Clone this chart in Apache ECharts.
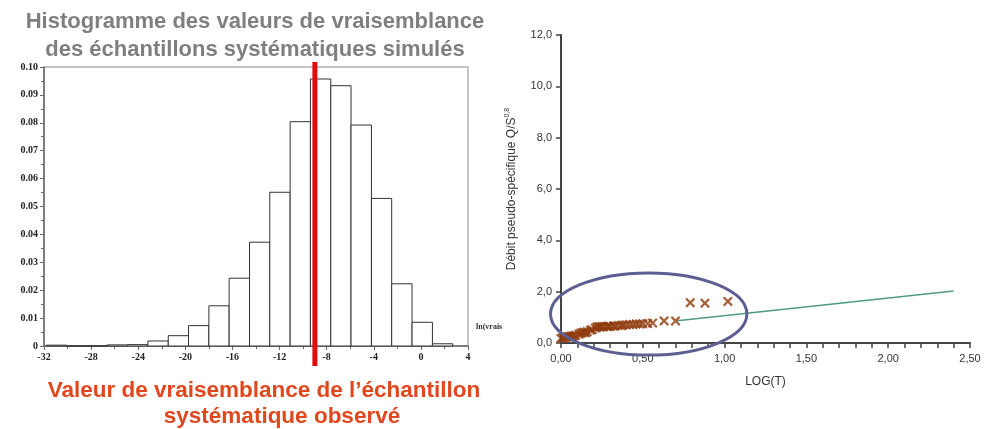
<!DOCTYPE html>
<html>
<head>
<meta charset="utf-8">
<script src="https://cdn.jsdelivr.net/npm/echarts@6/dist/echarts.min.js"></script>
<style>
html, body { margin: 0; padding: 0; background: #fff; }
#box1 { width: 984px; height: 429px; }
</style>
</head>
<body>
<div id="box1"></div>
<script>
// histogramme : bornes des classes et fréquences
var binEdges = [-31.8, -30.08, -28.35, -26.63, -24.9, -23.18, -21.45, -19.73, -18.0, -16.28,
	-14.55, -12.83, -11.1, -9.38, -7.65, -5.93, -4.2, -2.48, -0.75, 0.98, 2.7];
var binFreq = [0.0003, 0, 0, 0.0004, 0.0005, 0.0018, 0.0037, 0.0073, 0.0144, 0.0243,
	0.0372, 0.0551, 0.0804, 0.0957, 0.0933, 0.0792, 0.0529, 0.0223, 0.0085, 0.0008];
var observedValue = -9.0;

// nuage de points : LOG(T) et debit pseudo-specifique
var logT = [0.00, 0.01, 0.02, 0.03, 0.04, 0.05, 0.06, 0.07, 0.08, 0.09,
	0.11, 0.12, 0.13, 0.14, 0.15, 0.16, 0.18, 0.19,
	0.21, 0.22, 0.23, 0.24, 0.25, 0.26, 0.28, 0.29, 0.30, 0.32, 0.33, 0.35,
	0.37, 0.38, 0.40, 0.42, 0.44, 0.46, 0.48, 0.50, 0.53, 0.56,
	0.63, 0.70, 0.79, 0.88, 1.02];
var debit = [0.18, 0.20, 0.22, 0.22, 0.24, 0.25, 0.26, 0.27, 0.28, 0.30,
	0.34, 0.38, 0.40, 0.42, 0.40, 0.44, 0.50, 0.52,
	0.58, 0.62, 0.64, 0.62, 0.64, 0.63, 0.64, 0.65, 0.64, 0.66, 0.66, 0.68,
	0.68, 0.70, 0.71, 0.72, 0.72, 0.74, 0.74, 0.75, 0.76, 0.78,
	0.86, 0.86, 1.57, 1.55, 1.62];
// droite d'ajustement
var fitX = [0.71, 2.40];
var fitY = [0.87, 2.03];
// ellipse : centre et demi-axes en unites des axes
var ellipseCenter = [0.536, 1.13];
var ellipseRadius = [0.60, 1.6];

var histData = [];
for (var i = 0; i < binFreq.length; i++) {
	histData.push([binEdges[i], binEdges[i + 1], binFreq[i]]);
}
var scatterData = [];
for (var j = 0; j < logT.length; j++) {
	scatterData.push([logT[j], debit[j]]);
}
var fitData = [[fitX[0], fitY[0]], [fitX[1], fitY[1]]];

var serif = 'Liberation Serif';
var sans = 'Liberation Sans';
var crossPath = 'path://M0,1.6L1.6,0L5,3.4L8.4,0L10,1.6L6.6,5L10,8.4L8.4,10L5,6.6L1.6,10L0,8.4L3.4,5Z';

function comma(v, d) {
	return v.toFixed(d).replace('.', ',');
}

var dom1 = document.getElementById("box1");
var myChart1 = echarts.init(dom1);

var option1 = {
	animation: false,
	backgroundColor: '#fff',
	title: [{
			text: 'Histogramme des valeurs de vraisemblance\ndes échantillons systématiques simulés',
			left: 250,
			top: 3,
			textAlign: 'center',
			textStyle: {
				color: '#7f7f7f',
				fontFamily: sans,
				fontSize: 22,
				fontWeight: 'bold',
				lineHeight: 28
			}
		},
		{
			text: 'Valeur de vraisemblance de l\u2019échantillon',
			left: 259,
			top: 374,
			textAlign: 'center',
			textStyle: {
				color: '#e2461d',
				fontFamily: sans,
				fontSize: 22.5,
				fontWeight: 'bold'
			}
		},
		{
			text: 'systématique observé',
			left: 277,
			top: 400,
			textAlign: 'center',
			textStyle: {
				color: '#e2461d',
				fontFamily: sans,
				fontSize: 22.5,
				fontWeight: 'bold'
			}
		},
		{
			text: 'ln(vrais',
			left: 471,
			top: 318,
			textStyle: {
				color: '#333',
				fontFamily: serif,
				fontSize: 8,
				fontWeight: 'bold'
			}
		}
	],
	grid: [{
			left: 44,
			top: 67,
			width: 424,
			height: 279,
			show: true,
			borderColor: '#888',
			borderWidth: 1,
			backgroundColor: 'transparent'
		},
		{
			left: 561,
			top: 35,
			width: 409,
			height: 308
		}
	],
	xAxis: [{
			type: 'value',
			gridIndex: 0,
			min: -32,
			max: 4,
			interval: 4,
			splitLine: { show: false },
			axisLine: { onZero: false, lineStyle: { color: '#666', width: 1.5 } },
			axisTick: { length: 4, lineStyle: { color: '#666' } },
			minorTick: { show: true, splitNumber: 2, length: 3, lineStyle: { color: '#666' } },
			axisLabel: {
				color: '#222',
				fontFamily: serif,
				fontWeight: 'bold',
				fontSize: 10,
				margin: 6
			}
		},
		{
			type: 'value',
			gridIndex: 1,
			min: 0,
			max: 2.5,
			interval: 0.5,
			name: 'LOG(T)',
			nameLocation: 'middle',
			nameGap: 33,
			nameTextStyle: {
				color: '#333',
				fontFamily: sans,
				fontSize: 12
			},
			splitLine: { show: false },
			axisLine: { onZero: false, lineStyle: { color: '#444', width: 2 } },
			axisTick: { length: 5, lineStyle: { color: '#444', width: 1.5 } },
			minorTick: { show: true, splitNumber: 5, length: 5, lineStyle: { color: '#444', width: 1.5 } },
			axisLabel: {
				color: '#333',
				fontFamily: sans,
				fontSize: 11,
				margin: 10,
				formatter: function(v) {
					return comma(v, 2);
				}
			}
		}
	],
	yAxis: [{
			type: 'value',
			gridIndex: 0,
			min: 0,
			max: 0.1,
			interval: 0.01,
			splitLine: { show: false },
			axisLine: { onZero: false, lineStyle: { color: '#666', width: 1.5 } },
			axisTick: { length: 4, lineStyle: { color: '#666' } },
			minorTick: { show: true, splitNumber: 2, length: 3, lineStyle: { color: '#666' } },
			axisLabel: {
				color: '#222',
				fontFamily: serif,
				fontWeight: 'bold',
				fontSize: 10,
				margin: 6,
				formatter: function(v) {
					return v === 0 ? '0' : v.toFixed(2);
				}
			}
		},
		{
			type: 'value',
			gridIndex: 1,
			min: 0,
			max: 12,
			interval: 2,
			name: 'Débit pseudo-spécifique Q/S{sup|0,8}',
			nameLocation: 'middle',
			nameRotate: 90,
			nameGap: 42,
			nameTextStyle: {
				color: '#333',
				fontFamily: sans,
				fontSize: 12,
				rich: {
					sup: {
						fontSize: 7,
						fontFamily: sans,
						color: '#333',
						verticalAlign: 'top',
						padding: [0, 0, 8, 0]
					}
				}
			},
			splitLine: { show: false },
			axisLine: { onZero: false, lineStyle: { color: '#444', width: 2 } },
			axisTick: { length: 5, lineStyle: { color: '#444', width: 1.5 } },
			axisLabel: {
				color: '#333',
				fontFamily: sans,
				fontSize: 11,
				margin: 9,
				formatter: function(v) {
					return comma(v, 1);
				}
			}
		}
	],
	series: [{
			name: 'histogramme',
			type: 'custom',
			xAxisIndex: 0,
			yAxisIndex: 0,
			renderItem: function(params, api) {
				var p0 = api.coord([api.value(0), 0]);
				var p1 = api.coord([api.value(1), api.value(2)]);
				return {
					type: 'rect',
					shape: {
						x: p0[0],
						y: p1[1],
						width: p1[0] - p0[0],
						height: p0[1] - p1[1]
					},
					style: {
						fill: '#fff',
						stroke: '#333',
						lineWidth: 1
					}
				};
			},
			encode: { x: [0, 1], y: 2 },
			data: histData
		},
		{
			name: 'ajustement',
			type: 'line',
			xAxisIndex: 1,
			yAxisIndex: 1,
			symbol: 'none',
			lineStyle: { color: '#4f9c7e', width: 1.5 },
			data: fitData,
			z: 2
		},
		{
			name: 'observations',
			type: 'scatter',
			xAxisIndex: 1,
			yAxisIndex: 1,
			symbol: crossPath,
			symbolSize: 10,
			itemStyle: { color: '#8e3b0c' },
			data: scatterData,
			z: 3
		}
	]
};

myChart1.setOption(option1, true);

// ligne rouge et ellipse placees via les echelles des axes
var xRed = myChart1.convertToPixel({ xAxisIndex: 0 }, observedValue);
var yTop = myChart1.convertToPixel({ yAxisIndex: 0 }, 0.1);
var yBottom = myChart1.convertToPixel({ yAxisIndex: 0 }, 0);
var ec = myChart1.convertToPixel({ xAxisIndex: 1, yAxisIndex: 1 }, ellipseCenter);
var ex = myChart1.convertToPixel({ xAxisIndex: 1, yAxisIndex: 1 },
	[ellipseCenter[0] + ellipseRadius[0], ellipseCenter[1] + ellipseRadius[1]]);

myChart1.setOption({
	graphic: [{
			type: 'line',
			shape: { x1: xRed, y1: yTop - 5, x2: xRed, y2: yBottom + 20 },
			style: { stroke: '#e30b0b', lineWidth: 5 },
			z: 100
		},
		{
			type: 'ellipse',
			shape: { cx: ec[0], cy: ec[1], rx: ex[0] - ec[0], ry: ec[1] - ex[1] },
			style: { fill: 'none', stroke: '#5d5f93', lineWidth: 3 },
			z: 100
		}
	]
});
</script>
</body>
</html>
